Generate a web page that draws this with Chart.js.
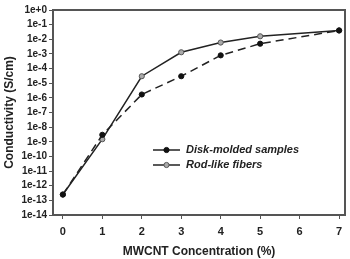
<!DOCTYPE html>
<html>
<head>
<meta charset="utf-8">
<script src="https://cdn.jsdelivr.net/npm/chart.js@4.4.0/dist/chart.umd.min.js"></script>
<style>
  html, body { margin: 0; padding: 0; background: #fff; }
  #wrap { width: 350px; height: 259px; }
</style>
</head>
<body>
<div id="wrap"><canvas id="myChart"></canvas></div>
<script>
const concentration = [0, 1, 2, 3, 4, 5, 7];
const diskMolded = [2.5e-13, 3e-9, 1.7e-6, 3e-5, 8e-4, 5e-3, 4e-2];
const rodLike = [2.5e-13, 1.5e-9, 3e-5, 1.3e-3, 6e-3, 1.6e-2, 4e-2];
const xTicks = [0, 1, 2, 3, 4, 5, 6, 7];
const yExponents = [0, -1, -2, -3, -4, -5, -6, -7, -8, -9, -10, -11, -12, -13, -14];

const fontFamily = "'Liberation Sans', Arial, sans-serif";
const ink = '#222';

function toPoints(values) {
    return concentration.map((c, i) => ({ x: c, y: values[i] }));
}

// box around the plot + legend inside it
const frame = {
    id: 'frame',
    afterDatasetsDraw(chart) {
        const ctx = chart.ctx;
        const a = chart.chartArea;
        ctx.save();
        ctx.strokeStyle = '#555';
        ctx.lineWidth = 2;
        ctx.strokeRect(a.left, a.top, a.right - a.left, a.bottom - a.top);

        const items = [
            { ds: chart.data.datasets[0], y: 150 },
            { ds: chart.data.datasets[1], y: 165 }
        ];
        ctx.font = "italic bold 11px " + fontFamily;
        ctx.textBaseline = 'middle';
        items.forEach(it => {
            ctx.strokeStyle = it.ds.borderColor;
            ctx.lineWidth = 1.5;
            ctx.setLineDash([]);
            ctx.beginPath();
            ctx.moveTo(153, it.y);
            ctx.lineTo(180, it.y);
            ctx.stroke();
            ctx.beginPath();
            ctx.arc(166.5, it.y, it.ds.pointRadius, 0, Math.PI * 2);
            ctx.fillStyle = it.ds.pointBackgroundColor;
            ctx.fill();
            ctx.lineWidth = 1;
            ctx.strokeStyle = it.ds.pointBorderColor;
            ctx.stroke();
            ctx.fillStyle = ink;
            ctx.fillText(it.ds.label, 186, it.y);
        });
        ctx.restore();
    }
};

const data = {
    datasets: [{
        label: 'Disk-molded samples',
        data: toPoints(diskMolded),
        borderColor: '#222',
        borderWidth: 1.5,
        borderDash: [8, 5],
        pointRadius: 2.6,
        pointBackgroundColor: '#111',
        pointBorderColor: '#111',
        pointBorderWidth: 1,
        tension: 0
    }, {
        label: 'Rod-like fibers',
        data: toPoints(rodLike),
        borderColor: '#222',
        borderWidth: 1.5,
        pointRadius: 2.6,
        pointBackgroundColor: '#aaa',
        pointBorderColor: '#555',
        pointBorderWidth: 1,
        tension: 0
    }]
};

const config = {
    type: 'line',
    data: data,
    plugins: [frame],
    options: {
        responsive: true,
        maintainAspectRatio: false,
        animation: false,
        layout: { padding: { top: 10, right: 5, left: 0, bottom: 0 } },
        plugins: {
            legend: { display: false },
            tooltip: { enabled: false }
        },
        scales: {
            x: {
                type: 'linear',
                min: -0.25,
                max: 7.15,
                afterBuildTicks: s => { s.ticks = xTicks.map(v => ({ value: v })); },
                afterFit: s => { s.height = 44; },
                grid: { drawOnChartArea: false, tickLength: 4, color: '#555' },
                border: { color: '#555', width: 2 },
                ticks: {
                    padding: 6,
                    autoSkip: false,
                    maxRotation: 0,
                    color: ink,
                    font: { family: fontFamily, size: 11, weight: 'bold' },
                    callback: v => v
                },
                title: {
                    display: true,
                    text: 'MWCNT Concentration (%)',
                    color: ink,
                    padding: { top: 0, bottom: 0 },
                    font: { family: fontFamily, size: 12, weight: 'bold' }
                }
            },
            y: {
                type: 'logarithmic',
                min: 1e-14,
                max: 1,
                afterBuildTicks: s => { s.ticks = yExponents.map(e => ({ value: Math.pow(10, e) })); },
                afterFit: s => { s.width = 53; },
                grid: { drawOnChartArea: false, tickLength: 4, color: '#555' },
                border: { color: '#555', width: 2 },
                ticks: {
                    padding: 2,
                    autoSkip: false,
                    color: ink,
                    font: { family: fontFamily, size: 10, weight: 'bold' },
                    callback: v => {
                        const e = Math.round(Math.log10(v));
                        return e === 0 ? '1e+0' : '1e' + e;
                    }
                },
                title: {
                    display: true,
                    text: 'Conductivity (S/cm)',
                    color: ink,
                    padding: { top: 2, bottom: 0 },
                    font: { family: fontFamily, size: 12, weight: 'bold' }
                }
            }
        }
    }
};

const myChart = new Chart(document.getElementById('myChart'), config);
</script>
</body>
</html>
